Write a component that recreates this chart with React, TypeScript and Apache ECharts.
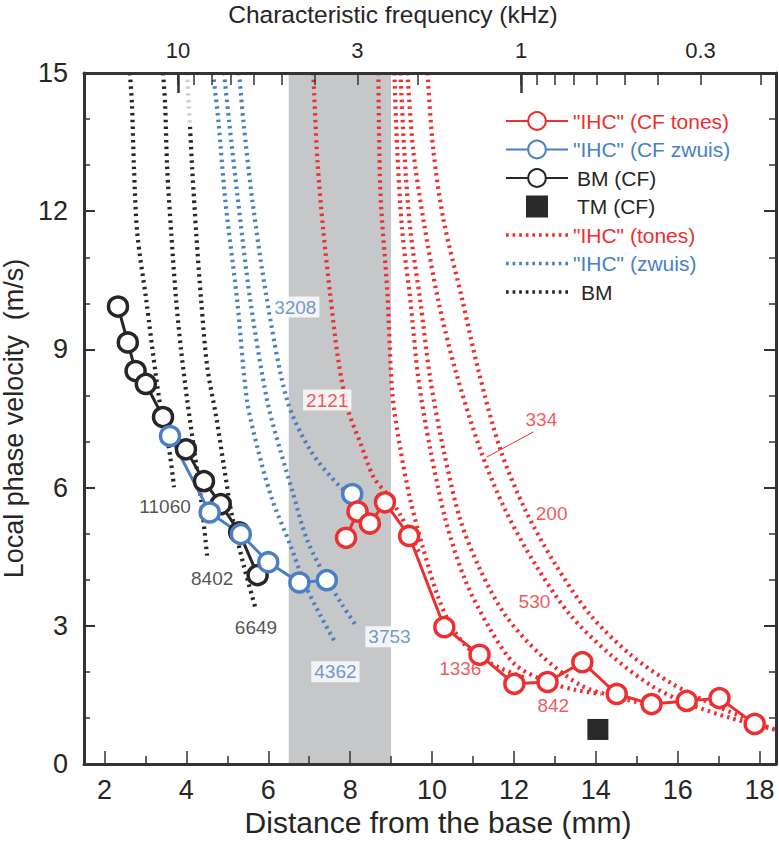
import React, { useEffect, useRef } from "react";
import * as echarts from "echarts";

const FONT = "'Liberation Sans', Arial, Helvetica, sans-serif";
const RED = "#ec2f30";
const BLUE = "#4a7fc4";
const DARK = "#262626";
const AX = "#333333";
const BAND = "#c6c7c9";

// ---- axes ----
const X_MIN = 1.5;
const X_MAX = 18.4;
const bottomTickValues = [2, 4, 6, 8, 10, 12, 14, 16, 18];
const bottomMinorValues = [3, 5, 7, 9, 11, 13, 15, 17];
const topTickFreqs = [10, 9, 8, 7, 6, 5, 4, 3, 2, 1, 0.9, 0.8, 0.7, 0.6, 0.5, 0.4, 0.3, 0.2];
const topMajorFreqs = [10, 1];
const topLabelFreqs = [10, 3, 1, 0.3];
const TOP_LOG_LEFT = 1.274; // log10(kHz) at the left edge
const TOP_LOG_RIGHT = -0.743; // log10(kHz) at the right edge
const Y_MIN = 0;
const Y_MAX = 15;
const Y_INTERVAL = 3;

const bandRange = [6.5, 9.0];

// ---- CF data (distance mm, velocity m/s) ----
const bmCF = [[2.33, 9.93], [2.57, 9.15], [2.76, 8.53], [3.01, 8.25], [3.43, 7.53], [3.99, 6.83], [4.43, 6.14], [4.84, 5.64], [5.29, 5.03], [5.74, 4.10]];
const ihcZwuisCF = [[3.60, 7.12], [4.57, 5.46], [5.33, 4.99], [6.00, 4.38], [6.76, 3.94], [7.43, 3.99]];
const ihcZwuisCFSingle = [[8.05, 5.86]];
const ihcTonesCF = [[7.90, 4.91], [8.18, 5.48], [8.48, 5.22], [8.85, 5.68], [9.44, 4.95], [10.30, 2.97], [11.16, 2.37], [12.01, 1.74], [12.82, 1.78], [13.67, 2.21], [14.51, 1.52], [15.36, 1.30], [16.22, 1.37], [17.02, 1.43], [17.88, 0.87]];
const tmCF = [[14.05, 0.75]];

// ---- dotted curves ----
const bm11060 = [[2.62, 15], [2.67, 14.35], [2.72, 12.96], [2.80, 11.53], [3.02, 10.07], [3.26, 8.40], [3.41, 7.53], [3.58, 6.82], [3.70, 6.01]];
const bm8402 = [[3.43, 15], [3.48, 14.35], [3.53, 12.96], [3.63, 11.53], [3.75, 10.07], [3.87, 8.99], [4.02, 7.90], [4.19, 6.82], [4.36, 5.73], [4.51, 4.49]];
const bm6649Top = [[4.02, 15], [4.06, 14.3], [4.09, 13.83]];
const bm6649 = [[4.09, 13.83], [4.14, 12.96], [4.24, 11.53], [4.36, 10.07], [4.51, 8.62], [4.73, 7.53], [4.92, 6.45], [5.12, 5.36], [5.41, 4.28], [5.68, 3.41]];

const zw4362 = [[4.65, 15], [4.78, 13.98], [4.95, 12.24], [5.24, 10.07], [5.48, 7.90], [5.75, 6.82], [6.10, 5.73], [6.54, 4.75], [6.90, 3.89], [7.27, 3.23], [7.64, 2.63]];
const zw3753 = [[4.92, 15], [5.04, 13.98], [5.26, 12.24], [5.56, 10.07], [5.97, 7.90], [6.29, 6.82], [6.58, 5.95], [6.95, 4.86], [7.44, 3.99], [7.81, 3.45], [8.17, 2.97]];
const zw3208 = [[5.29, 15], [5.39, 13.98], [5.61, 12.24], [5.97, 10.07], [6.46, 7.90], [7.02, 6.82], [7.76, 6.01], [8.05, 5.86]];

const tn2121 = [[7.10, 15], [7.20, 13.11], [7.34, 11.61], [7.51, 10.22], [7.71, 8.77], [7.95, 7.68], [8.25, 6.97], [8.57, 6.23], [8.91, 5.84], [9.23, 5.40], [9.47, 4.97], [9.71, 4.54]];
const tn1336 = [[8.69, 15], [8.74, 12.39], [8.91, 10.22], [9.03, 8.05], [9.23, 6.82], [9.47, 5.73], [9.76, 4.75], [10.13, 3.67], [10.45, 3.02], [10.81, 2.58], [11.18, 2.32], [11.67, 2.08], [12.28, 1.87]];
const tn842 = [[9.08, 15], [9.15, 13.33], [9.27, 11.59], [9.47, 10.07], [9.67, 8.34], [9.96, 6.82], [10.33, 5.30], [10.81, 3.99], [11.43, 2.91], [12.04, 2.15], [12.82, 1.78], [13.50, 1.61], [14.12, 1.52]];
const tn530 = [[9.23, 15], [9.32, 13.33], [9.47, 11.59], [9.71, 10.07], [9.96, 8.34], [10.28, 6.82], [10.69, 5.30], [11.18, 4.21], [11.79, 3.23], [12.65, 2.37], [13.63, 1.71], [14.51, 1.45], [15.34, 1.28]];
const tn334 = [[9.40, 15], [9.54, 13.33], [9.79, 11.81], [10.15, 10.07], [10.57, 8.55], [11.18, 6.82], [11.79, 5.51], [12.53, 4.32], [13.38, 3.23], [14.36, 2.37], [15.34, 1.71], [16.22, 1.32], [17.29, 1.00], [18.4, 0.74]];
const tn200 = [[9.89, 15], [10.03, 13.33], [10.28, 11.81], [10.74, 10.07], [11.13, 8.55], [11.67, 6.82], [12.28, 5.51], [13.02, 4.32], [13.87, 3.23], [14.85, 2.37], [15.83, 1.76], [16.80, 1.32], [17.88, 0.91], [18.4, 0.74]];

const leader334 = [[12.48, 7.21], [11.33, 6.66]];

// ---- annotations ----
const annotationTexts = ["11060", "8402", "6649", "3208", "2121", "3753", "4362", "1336", "842", "530", "200", "334"];
const annotationX = [3.48, 4.63, 5.70, 6.66, 7.44, 8.96, 7.64, 10.69, 12.96, 12.50, 12.92, 12.67];
const annotationY = [5.58, 4.02, 2.97, 9.92, 7.90, 2.76, 2.00, 2.08, 1.28, 3.52, 5.43, 7.47];
const annotationColors = [DARK, DARK, DARK, BLUE, RED, BLUE, BLUE, RED, RED, RED, RED, RED];
const annotationBoxed = [false, false, false, true, true, true, true, false, false, false, false, false];

const NAME_TONES_CF = '"IHC" (CF tones)';
const NAME_ZWUIS_CF = '"IHC" (CF zwuis)';
const NAME_BM_CF = "BM (CF)";
const NAME_TM_CF = "TM (CF)";
const NAME_TONES = '"IHC" (tones)';
const NAME_ZWUIS = '"IHC" (zwuis)';
const NAME_BM = "BM";

// dotted legend icon: a row of short dashes
const DOTTED_ICON =
  "path://" +
  Array.from({ length: 10 }, (_, i) => `M${i * 6.4},0h2.6v3.2h-2.6z`).join(" ");

function dotted(name: string, data: number[][], color: string) {
  return {
    type: "line",
    name,
    data,
    xAxisIndex: 0,
    yAxisIndex: 0,
    symbol: "none",
    smooth: 0.3,
    silent: true,
    z: 3,
    lineStyle: { color, width: 4.2, type: [2.5, 4.2] },
    itemStyle: { color },
  };
}

function cfLine(name: string, data: number[][], color: string) {
  return {
    type: "line",
    name,
    data,
    xAxisIndex: 0,
    yAxisIndex: 0,
    symbol: "circle",
    symbolSize: 19,
    showSymbol: true,
    silent: true,
    z: 5,
    lineStyle: { color, width: 3 },
    itemStyle: { color: "#ffffff", borderColor: color, borderWidth: 3.5 },
  };
}

const fmtFreq = (v: number) => {
  const f = Math.pow(10, v);
  return f < 1 ? f.toFixed(1) : String(Math.round(f));
};

function buildOption() {
  const axisLineStyle = { color: AX, width: 3 };
  const tickLine = { color: AX, width: 1.5 };
  return {
    animation: false,
    backgroundColor: "#ffffff",
    textStyle: { fontFamily: FONT },
    grid: { left: 84, right: 3, top: 73, bottom: 89, containLabel: false, outerBoundsMode: "none" },
    legend: {
      orient: "vertical",
      left: 500,
      top: 105,
      itemWidth: 62,
      itemHeight: 22,
      itemGap: 6.5,
      selectedMode: false,
      textStyle: { fontFamily: FONT, fontSize: 21, lineHeight: 22 },
      data: [
        { name: NAME_TONES_CF, textStyle: { color: RED } },
        { name: NAME_ZWUIS_CF, textStyle: { color: BLUE } },
        { name: NAME_BM_CF, textStyle: { color: DARK, padding: [0, 0, 0, 4] } },
        { name: NAME_TM_CF, icon: "path://M0,0H10V10H0Z", itemStyle: { color: "#2a2a2a" }, textStyle: { color: DARK, padding: [0, 0, 0, 4] } },
        { name: NAME_TONES, icon: DOTTED_ICON, itemStyle: { color: RED }, textStyle: { color: RED } },
        { name: NAME_ZWUIS, icon: DOTTED_ICON, itemStyle: { color: BLUE }, textStyle: { color: BLUE } },
        { name: NAME_BM, icon: DOTTED_ICON, itemStyle: { color: DARK }, textStyle: { color: DARK, padding: [0, 0, 0, 8] } },
      ],
    },
    xAxis: [
      {
        type: "value",
        position: "bottom",
        min: X_MIN,
        max: X_MAX,
        z: 10,
        axisLine: { show: true, onZero: false, lineStyle: axisLineStyle },
        axisTick: { show: true, inside: true, length: 13, lineStyle: tickLine, customValues: bottomTickValues },
        axisLabel: { customValues: bottomTickValues, fontSize: 27, color: DARK, margin: 12, fontFamily: FONT },
        splitLine: { show: false },
        name: "Distance from the base (mm)",
        nameLocation: "middle",
        nameGap: 43,
        nameTextStyle: { fontSize: 30, color: DARK, fontFamily: FONT, padding: [0, 0, 0, 16] },
      },
      {
        type: "value",
        position: "top",
        min: TOP_LOG_RIGHT,
        max: TOP_LOG_LEFT,
        inverse: true,
        z: 10,
        axisLine: { show: true, onZero: false, lineStyle: axisLineStyle },
        axisTick: { show: true, inside: true, length: 12, lineStyle: tickLine, customValues: topTickFreqs.map((f) => Math.log10(f)) },
        axisLabel: { customValues: topLabelFreqs.map((f) => Math.log10(f)), formatter: fmtFreq, fontSize: 22, color: DARK, margin: 12, fontFamily: FONT },
        splitLine: { show: false },
        name: "Characteristic frequency (kHz)",
        nameLocation: "middle",
        nameGap: 46,
        nameTextStyle: { fontSize: 24.5, color: DARK, fontFamily: FONT, padding: [0, 74, 0, 0] },
      },
      {
        type: "value",
        position: "bottom",
        min: X_MIN,
        max: X_MAX,
        z: 10,
        axisLine: { show: false, onZero: false },
        axisTick: { show: true, inside: true, length: 8, lineStyle: tickLine, customValues: bottomMinorValues },
        axisLabel: { show: false },
        splitLine: { show: false },
      },
      {
        type: "value",
        position: "top",
        min: TOP_LOG_RIGHT,
        max: TOP_LOG_LEFT,
        inverse: true,
        z: 10,
        axisLine: { show: false, onZero: false },
        axisTick: { show: true, inside: true, length: 20, lineStyle: { color: AX, width: 2.5 }, customValues: topMajorFreqs.map((f) => Math.log10(f)) },
        axisLabel: { show: false },
        splitLine: { show: false },
      },
    ],
    yAxis: [
      {
        type: "value",
        position: "left",
        min: Y_MIN,
        max: Y_MAX,
        interval: Y_INTERVAL,
        z: 10,
        axisLine: { show: true, onZero: false, lineStyle: axisLineStyle },
        axisTick: { show: true, inside: true, length: 11, lineStyle: { color: AX, width: 2 } },
        minorTick: { show: true, splitNumber: 3, length: 6, lineStyle: tickLine },
        axisLabel: { fontSize: 27, color: DARK, margin: 16, fontFamily: FONT },
        splitLine: { show: false },
        name: "Local phase velocity  (m/s)",
        nameLocation: "middle",
        nameGap: 48,
        nameRotate: 90,
        nameTextStyle: { fontSize: 27, color: DARK, fontFamily: FONT },
      },
      {
        type: "value",
        position: "right",
        min: Y_MIN,
        max: Y_MAX,
        interval: Y_INTERVAL,
        z: 10,
        axisLine: { show: true, onZero: false, lineStyle: axisLineStyle },
        axisTick: { show: true, inside: true, length: 12, lineStyle: { color: AX, width: 2 } },
        minorTick: { show: true, splitNumber: 3, length: 7, lineStyle: tickLine },
        axisLabel: { show: false },
        splitLine: { show: false },
      },
    ],
    series: [
      {
        type: "line",
        name: "band",
        data: [],
        xAxisIndex: 0,
        yAxisIndex: 0,
        z: 1,
        silent: true,
        markArea: {
          silent: true,
          itemStyle: { color: BAND },
          data: [[{ xAxis: bandRange[0] }, { xAxis: bandRange[1] }]],
        },
      },
      dotted(NAME_BM, bm11060, DARK),
      dotted(NAME_BM, bm8402, DARK),
      dotted(NAME_BM, bm6649, DARK),
      dotted("BM upper", bm6649Top, "#cfcfcf"),
      dotted(NAME_ZWUIS, zw4362, BLUE),
      dotted(NAME_ZWUIS, zw3753, BLUE),
      dotted(NAME_ZWUIS, zw3208, BLUE),
      dotted(NAME_TONES, tn2121, RED),
      dotted(NAME_TONES, tn1336, RED),
      dotted(NAME_TONES, tn842, RED),
      dotted(NAME_TONES, tn530, RED),
      dotted(NAME_TONES, tn334, RED),
      dotted(NAME_TONES, tn200, RED),
      {
        type: "line",
        name: "leader",
        data: leader334,
        xAxisIndex: 0,
        yAxisIndex: 0,
        symbol: "none",
        silent: true,
        z: 4,
        lineStyle: { color: RED, width: 1 },
      },
      cfLine(NAME_BM_CF, bmCF, DARK),
      cfLine(NAME_ZWUIS_CF, ihcZwuisCF, BLUE),
      cfLine(NAME_ZWUIS_CF, ihcZwuisCFSingle, BLUE),
      cfLine(NAME_TONES_CF, ihcTonesCF, RED),
      {
        type: "scatter",
        name: NAME_TM_CF,
        data: tmCF,
        xAxisIndex: 0,
        yAxisIndex: 0,
        symbol: "rect",
        symbolSize: 21,
        silent: true,
        z: 5,
        itemStyle: { color: "#2a2a2a", opacity: 1 },
      },
      {
        type: "scatter",
        name: "annotations",
        xAxisIndex: 0,
        yAxisIndex: 0,
        symbolSize: 1,
        silent: true,
        z: 6,
        itemStyle: { color: "rgba(0,0,0,0)" },
        label: { show: true, position: "inside", fontSize: 19, fontFamily: FONT },
        data: annotationTexts.map((t, i) => ({
          value: [annotationX[i], annotationY[i]],
          label: {
            show: true,
            position: "inside",
            formatter: t,
            color: annotationColors[i],
            backgroundColor: annotationBoxed[i] ? "#ffffff" : "transparent",
            padding: [1, 3],
          },
        })),
      },
    ],
  };
}

export default function App() {
  const ref = useRef<HTMLDivElement>(null);
  useEffect(() => {
    if (!ref.current) return;
    const chart = echarts.init(ref.current, undefined, { renderer: "svg" });
    chart.setOption(buildOption() as any);
    return () => chart.dispose();
  }, []);
  return (
    <div
      ref={ref}
      style={{ position: "fixed", left: 0, top: 0, width: 779, height: 853, background: "#fff" }}
    />
  );
}
